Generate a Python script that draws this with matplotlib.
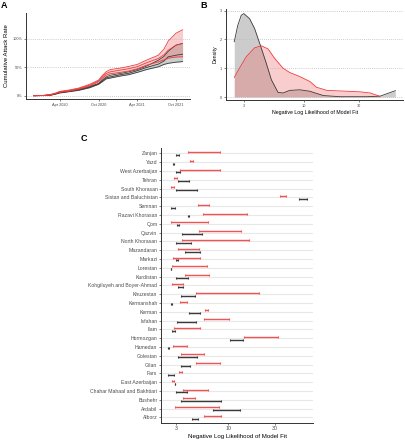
import matplotlib
matplotlib.use("Agg")
import matplotlib.pyplot as plt
import matplotlib.dates as mdates
import numpy as np
import pandas as pd

plt.rcParams["font.family"] = ["Liberation Sans", "DejaVu Sans"]

# ── panel A: cumulative attack rate (%) ─────────────────────────────────────
dates = ["2019-12-01", "2020-01-15", "2020-02-20", "2020-03-15", "2020-04-01",
         "2020-05-15", "2020-06-30", "2020-08-20", "2020-10-01", "2020-10-20",
         "2020-11-05", "2020-11-25", "2021-01-10", "2021-02-20", "2021-04-01",
         "2021-05-15", "2021-07-10", "2021-08-05", "2021-08-25", "2021-10-01",
         "2021-11-01"]
red_lo  = [0, 0.3, 1.5, 4.0, 6.0, 8.0, 11.5, 17, 24.5, 31, 36, 38.6, 41, 43.5, 47.4, 53.8, 59.6, 63, 66, 68, 68.5]
red_mid = [0, 0.4, 2.0, 4.5, 6.8, 9.0, 12.5, 18.5, 26, 33.5, 39, 42, 45, 47.5, 51, 58, 65.5, 72, 80, 88.9, 92]
red_hi  = [0, 0.5, 2.5, 5.0, 7.6, 10, 13.5, 20, 27.5, 36, 42, 46, 48.5, 51.5, 55, 62.6, 71.3, 82, 96, 110, 116]
blk_lo  = [0, 0.2, 1.0, 3.0, 4.8, 7.0, 9.5, 14, 20, 25, 29.5, 31, 34.5, 37, 41, 46, 50.9, 55, 57, 59, 60]
blk_mid = [0, 0.3, 1.3, 3.5, 5.3, 7.6, 10.3, 15, 20.8, 26.5, 31.3, 33, 36.8, 39.5, 44, 49.7, 55.6, 61, 68.4, 71.3, 73]
blk_hi  = [0, 0.4, 1.6, 4.0, 5.8, 8.2, 11, 16, 21.6, 28, 33, 36, 39, 42, 46, 52, 62.6, 69, 78, 89, 92]

# ── panel B: density of negative log likelihood ────────────────────────────
dens_gray_x = [2.47, 2.65, 2.84, 2.99, 3.36, 3.71, 4.16, 4.69, 5.19, 5.93, 6.56,
               7.5, 9.17, 11.2, 14.7, 20.5, 35.1, 45.8, 62]
dens_gray_y = [1.92, 2.49, 2.84, 2.90, 2.72, 2.38, 1.80, 1.17, 0.60, 0.16, 0.14,
               0.23, 0.25, 0.20, 0.05, 0.01, 0.01, 0.03, 0.22]
dens_red_x = [2.47, 2.74, 3.14, 3.71, 4.25, 4.86, 5.55, 6.56, 7.5, 9.17, 11.2,
              12.8, 15.7, 20.5, 30.6, 37.5, 45.8]
dens_red_y = [0.68, 1.00, 1.40, 1.71, 1.78, 1.67, 1.34, 1.00, 0.85, 0.71, 0.54,
              0.34, 0.23, 0.21, 0.18, 0.14, 0.02]

# ── panel C: intervals per province ─────────────────────────────────────────
provinces = ["Zanjan", "Yazd", "West Azerbaijan", "Tehran", "South Khorasan",
             "Sistan and Baluchistan", "Semnan", "Razavi Khorasan", "Qom", "Qazvin",
             "North Khorasan", "Mazandaran", "Markazi", "Lorestan", "Kurdistan",
             "Kohgiluyeh and Boyer-Ahmad", "Khuzestan", "Kermanshah", "Kerman",
             "Isfahan", "Ilam", "Hormozgan", "Hamedan", "Golestan", "Gilan", "Fars",
             "East Azerbaijan", "Chahar Mahaal and Bakhtiari", "Bushehr", "Ardabil",
             "Alborz"]
red_low  = [3.92, 4.16, 3.27, 2.85, 2.66, 33.5, 5.0, 5.6, 2.62, 5.12, 3.41, 3.13, 2.78,
            2.72, 3.7, 2.72, 4.75, 3.27, 5.8, 5.72, 2.8, 14.6, 2.78, 3.3, 4.68, 3.15,
            2.68, 3.5, 3.5, 2.92, 5.72]
red_high = [8.3, 4.4, 8.3, 3.04, 2.83, 38.3, 6.4, 15.6, 6.24, 13.4, 16.3, 5.12, 5.17,
            6.1, 6.4, 3.5, 20.7, 3.8, 6.2, 10.2, 5.21, 31.8, 3.8, 5.7, 8.24, 3.41,
            2.81, 6.28, 4.57, 8.05, 8.5]
blk_low  = [2.97, 2.76, 2.97, 3.08, 2.97, 52.5, 2.62, 3.95, 3.05, 3.41, 3.0, 3.7, 2.99,
            2.63, 3.0, 3.08, 3.3, 2.67, 4.06, 3.05, 2.68, 10.5, 2.47, 3.13, 3.3, 2.46,
            2.88, 2.95, 3.33, 7.0, 4.26]
blk_high = [3.15, 2.80, 3.22, 4.06, 4.83, 62.5, 2.89, 3.99, 3.18, 5.42, 4.2, 5.25, 3.08,
            2.66, 3.9, 3.5, 4.6, 2.70, 5.25, 4.72, 2.89, 14.2, 2.50, 4.79, 4.1, 2.83,
            2.91, 3.8, 8.44, 13.3, 4.95]

RED = "#ee3b3b"
BAR_RED = "#f25252"
DARK = "#3a3a3a"
TICK_C = "#4d4d4d"
XLIM = (2.1, 72.5)

fig = plt.figure(figsize=(4.06, 4.40), dpi=100)

def style(ax, fs):
    ax.spines[["top", "right"]].set_visible(False)
    for s in ("left", "bottom"):
        ax.spines[s].set_linewidth(0.7)
        ax.spines[s].set_color("#333333")
    ax.tick_params(labelsize=fs, colors=TICK_C, length=1.5, width=0.5, pad=1.2)

# ── A ──
axA = fig.add_axes([0.064, 0.775, 0.404, 0.196])
t = pd.to_datetime(dates)
axA.fill_between(t, blk_lo, blk_hi, color="#9a9a9a", alpha=0.5, lw=0)
axA.fill_between(t, red_lo, red_hi, color="#f07070", alpha=0.35, lw=0)
for s in (blk_lo, blk_mid, blk_hi):
    axA.plot(t, s, color=DARK, lw=0.6)
for s in (red_lo, red_mid, red_hi):
    axA.plot(t, s, color=RED, lw=0.6)
axA.set_xlim(pd.Timestamp("2019-10-25"), pd.Timestamp("2021-12-06"))
axA.set_ylim(-5.8, 146)
axA.set_yticks([0, 50, 100])
axA.set_yticklabels(["0%", "50%", "100%"])
axA.xaxis.set_major_locator(mdates.MonthLocator(bymonth=[4, 10]))
axA.xaxis.set_major_formatter(mdates.DateFormatter("%b %Y"))
axA.grid(axis="y", linestyle=(0, (1, 1.5)), color="#bbbbbb", lw=0.6)
axA.set_ylabel("Cumulative Attack Rate", fontsize=4.3, labelpad=2)
style(axA, 2.8)

# ── B ──
axB = fig.add_axes([0.557, 0.773, 0.436, 0.206])
axB.fill_between(dens_gray_x, 0, dens_gray_y, color="#9a9a9a", alpha=0.5, lw=0)
axB.plot(dens_gray_x, dens_gray_y, color=DARK, lw=0.6)
axB.fill_between(dens_red_x, 0, dens_red_y, color="#f07070", alpha=0.35, lw=0)
axB.plot(dens_red_x, dens_red_y, color=RED, lw=0.6)
axB.set_xscale("log")
axB.set_xlim(*XLIM)
axB.set_xticks([3, 10, 30])
axB.set_xticklabels(["3", "10", "30"])
axB.xaxis.set_minor_locator(matplotlib.ticker.NullLocator())
axB.set_ylim(-0.1, 3.05)
axB.set_yticks([0, 1, 2, 3])
axB.grid(axis="y", linestyle=(0, (1, 1.5)), color="#bbbbbb", lw=0.6)
axB.set_xlabel("Negative Log Likelihood of Model Fit", fontsize=3.8, labelpad=1.5)
axB.set_ylabel("Density", fontsize=3.8, labelpad=2)
style(axB, 2.8)

# ── C ──
axC = fig.add_axes([0.397, 0.0393, 0.374, 0.624])
n = len(provinces)
ypos = np.arange(n, 0, -1)
for yy in ypos:
    axC.axhline(yy, color="#e8e8e8", lw=0.8, zorder=0)

def intervals(ax, lo, hi, y, color):
    ax.hlines(y, lo, hi, color=color, lw=1.0, zorder=3)
    ax.plot(lo, y, ls="none", marker="|", ms=2.0, mew=0.8, color=color, zorder=3)
    ax.plot(hi, y, ls="none", marker="|", ms=2.0, mew=0.8, color=color, zorder=3)

intervals(axC, red_low, red_high, ypos + 0.16, BAR_RED)
intervals(axC, blk_low, blk_high, ypos - 0.16, DARK)
axC.set_xscale("log")
axC.set_xlim(*XLIM)
axC.set_xticks([3, 10, 30])
axC.set_xticklabels(["3", "10", "30"])
axC.xaxis.set_minor_locator(matplotlib.ticker.NullLocator())
axC.set_ylim(0.4, n + 0.6)
axC.set_yticks(ypos)
axC.set_yticklabels(provinces)
axC.set_xlabel("Negative Log Likelihood of Model Fit", fontsize=4.4, labelpad=1.5)
style(axC, 3.7)
axC.tick_params(axis="x", labelsize=3.8)

fig.text(0.003, 0.997, "A", fontsize=6.5, fontweight="bold", va="top")
fig.text(0.493, 0.997, "B", fontsize=6.5, fontweight="bold", va="top")
fig.text(0.198, 0.695, "C", fontsize=6.5, fontweight="bold", va="top")

fig.savefig("out.png", dpi=100)
